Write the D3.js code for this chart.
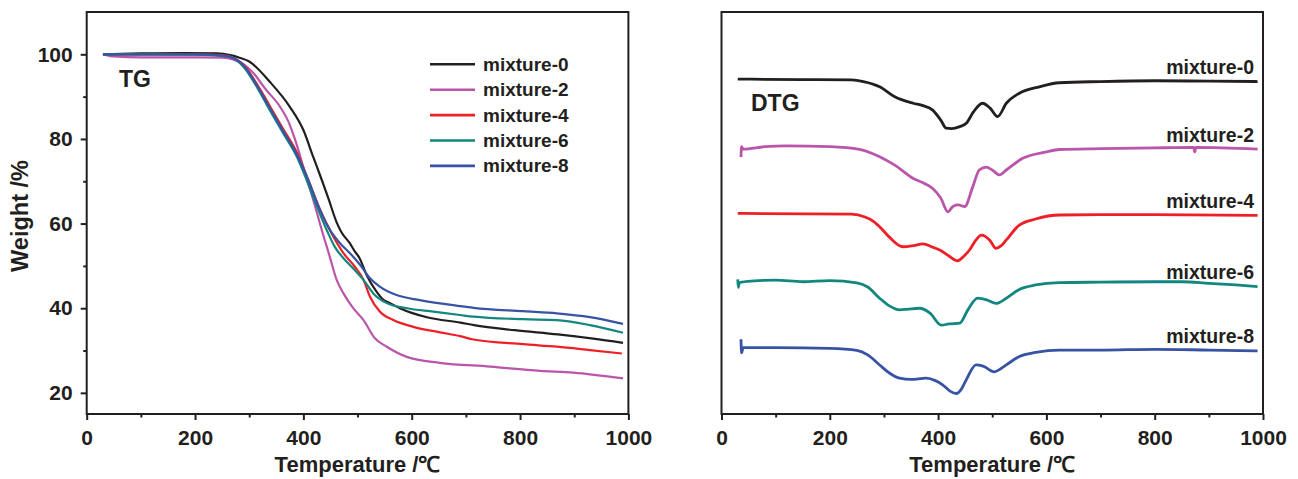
<!DOCTYPE html>
<html>
<head>
<meta charset="utf-8">
<script src="https://cdn.jsdelivr.net/npm/d3@7"></script>
<style>
    body { margin: 0; background: #fff; }
    svg  { display: block; }
    text { font-family: "Liberation Sans", Arial, sans-serif; font-weight: bold; fill: #231f20; }
</style>
</head>
<body>
<div id="chart"></div>
<script>
// ---- data ---------------------------------------------------------------
const names  = ["mixture-0", "mixture-2", "mixture-4", "mixture-6", "mixture-8"];
const colors = ["#231f20", "#bb55a9", "#ee1f26", "#13877f", "#3953a4"];

const tempMajor   = [0, 200, 400, 600, 800, 1000];
const tempMinor   = [100, 300, 500, 700, 900];
const weightMajor = [20, 40, 60, 80, 100];
const weightMinor = [30, 50, 70, 90];

// TG: [temperature °C, weight %]
const tgMix0 = [[30,100.0],[100,100.2],[180,100.3],[240,100.2],[265,99.8],[282,99.2],[300,98.3],[338,93.5],
    [375,87.6],[400,82.1],[418,75.8],[434,70.3],[446,66.0],[462,60.1],[470,58.0],[486,55.3],[494,53.6],
    [503,52.0],[517,47.8],[535,43.9],[545,42.3],[560,41.2],[580,39.9],[600,38.9],[630,37.8],[690,36.6],
    [715,36.0],[790,34.8],[870,33.8],[935,32.8],[990,31.8]];
const tgMix2 = [[30,100.0],[50,99.5],[100,99.3],[200,99.3],[250,99.2],[270,98.8],[290,97.6],[308,95.5],
    [330,91.8],[357,87.6],[372,84.2],[385,79.7],[403,72.0],[420,64.8],[435,58.0],[448,52.5],[462,46.5],
    [474,43.5],[492,40.0],[511,37.2],[532,32.9],[554,30.9],[591,28.5],[652,27.1],[745,26.2],[837,25.2],
    [898,24.8],[990,23.4]];
const tgMix4 = [[30,100.0],[100,100.0],[200,100.0],[250,99.8],[270,99.2],[290,97.5],[314,93.0],[338,87.8],
    [363,82.3],[388,76.8],[409,70.3],[431,63.2],[452,57.7],[474,53.0],[495,49.8],[511,46.7],[523,42.7],
    [541,39.2],[566,37.2],[603,35.6],[652,34.3],[689,33.4],[714,32.6],[806,31.5],[868,30.9],[929,30.1],
    [988,29.3]];
const tgMix6 = [[30,100.0],[100,100.0],[200,99.9],[250,99.6],[265,99.4],[289,97.1],[314,92.3],[338,86.8],
    [363,81.3],[388,75.8],[406,70.3],[425,64.0],[443,58.5],[458,54.5],[474,51.8],[492,49.4],[511,46.7],
    [529,43.5],[554,41.2],[591,40.0],[640,39.2],[689,38.4],[714,38.0],[806,37.4],[868,37.2],[929,36.0],
    [990,34.2]];
const tgMix8 = [[30,100.0],[100,100.0],[200,100.0],[250,99.7],[265,99.4],[290,97.3],[314,92.7],[338,87.3],
    [363,81.8],[388,76.3],[409,70.3],[428,64.0],[449,58.5],[468,55.3],[486,53.0],[505,50.2],[523,47.1],
    [541,45.1],[572,43.1],[615,41.9],[689,40.5],[714,40.1],[806,39.3],[868,38.8],[929,37.9],[990,36.3]];

// DTG: [temperature °C, signal a.u., curves stacked with offsets]
const dtgMix0 = [[30,83.3],[150,83.2],[240,83.1],[262,82.7],[292,81.4],[320,78.9],[354,77.3],[372,76.7],
    [390,75.6],[405,73.1],[415,71.1],[425,71.0],[440,71.5],[452,72.3],[465,75.1],[482,77.3],[496,76.1],
    [510,74.0],[526,77.3],[550,79.8],[587,81.4],[624,82.4],[700,82.7],[800,82.9],[900,82.8],[990,82.7]];
const dtgMix2 = [[36,63.9],[37,66.5],[40,65.9],[80,66.5],[120,66.7],[200,66.5],[255,65.8],[275,65.0],
    [292,64.0],[320,61.9],[354,58.6],[372,57.5],[390,56.1],[405,53.7],[418,50.3],[428,51.7],[437,52.0],
    [449,51.6],[464,56.5],[476,60.7],[489,61.4],[500,60.7],[513,59.5],[526,60.7],[556,63.6],[600,65.2],
    [624,65.8],[700,66.0],[800,66.2],[872,66.3],[874,65.2],[876,66.3],[990,65.9]];
const dtgMix4 = [[30,49.9],[240,49.7],[265,49.0],[280,48.0],[292,46.6],[310,44.0],[335,41.6],[355,41.9],
    [372,42.3],[390,41.5],[403,40.8],[420,39.3],[436,38.1],[448,39.3],[458,40.8],[470,43.3],[480,44.5],
    [495,43.3],[507,41.2],[516,41.8],[526,43.3],[550,47.0],[580,48.5],[624,49.5],[700,49.6],[800,49.6],
    [990,49.4]];
const dtgMix6 = [[30,33.5],[31,31.5],[33,32.7],[60,33.1],[100,33.3],[150,32.9],[200,33.2],[250,32.6],
    [270,31.6],[292,28.8],[310,26.9],[329,25.9],[345,26.1],[366,26.3],[385,25.1],[406,22.1],[420,22.4],
    [440,22.6],[455,25.9],[473,28.8],[490,28.4],[507,27.5],[526,28.8],[550,31.0],[580,32.1],[624,32.7],
    [700,32.8],[800,32.9],[850,32.9],[900,32.5],[950,32.1],[990,31.7]];
const dtgMix8 = [[36,18.6],[37,15.2],[40,16.5],[100,16.5],[200,16.3],[250,15.8],[270,14.7],[292,12.2],
    [310,10.2],[329,8.9],[350,8.6],[378,8.9],[395,8.3],[409,7.2],[422,5.7],[434,5.1],[443,6.2],[452,8.5],
    [470,12.2],[483,11.9],[504,10.5],[515,11.2],[526,12.2],[550,14.3],[580,15.3],[624,15.9],[700,15.9],
    [800,16.1],[900,15.9],[990,15.7]];

const tgSeries  = [tgMix0, tgMix2, tgMix4, tgMix6, tgMix8];
const dtgSeries = [dtgMix0, dtgMix2, dtgMix4, dtgMix6, dtgMix8];

// ---- layout -------------------------------------------------------------
const width = 1298, height = 479;
const ink = "#231f20";

const svg = d3.select("#chart").append("svg")
    .attr("width", width)
    .attr("height", height);

const styleAxis = g => {
    g.select(".domain").remove();
    g.selectAll(".tick line").attr("stroke", ink).attr("stroke-width", 2);
    g.selectAll(".tick text").style("font-size", "21px").attr("fill", ink);
};

function drawPanel({ x0, x1, top, bottom, yDomain, yMajor, yMinor }) {
    const x = d3.scaleLinear().domain([0, 1000]).range([x0, x1]);
    const y = d3.scaleLinear().domain(yDomain).range([bottom, top]);
    const g = svg.append("g");

    // bottom axis, major + minor ticks
    g.append("g")
        .attr("transform", `translate(0,${bottom})`)
        .call(d3.axisBottom(x).tickValues(tempMajor).tickSize(6).tickPadding(10).tickFormat(d3.format("d")))
        .call(styleAxis);
    g.append("g")
        .attr("transform", `translate(0,${bottom})`)
        .call(d3.axisBottom(x).tickValues(tempMinor).tickSize(3.5).tickFormat(""))
        .call(styleAxis);

    if (yMajor) {
        g.append("g")
            .attr("transform", `translate(${x0},0)`)
            .call(d3.axisLeft(y).tickValues(yMajor).tickSize(6).tickPadding(8))
            .call(styleAxis);
        g.append("g")
            .attr("transform", `translate(${x0},0)`)
            .call(d3.axisLeft(y).tickValues(yMinor).tickSize(3.5).tickFormat(""))
            .call(styleAxis);
    }

    g.append("text")
        .attr("x", (x0 + x1) / 2)
        .attr("y", 472)
        .attr("text-anchor", "middle")
        .style("font-size", "22px")
        .text("Temperature /\u2103");

    const lines = g.append("g");
    const frame = () => g.append("rect")
        .attr("x", x0).attr("y", top)
        .attr("width", x1 - x0).attr("height", bottom - top)
        .attr("fill", "none").attr("stroke", ink).attr("stroke-width", 2);

    return { x, y, g, lines, frame };
}

// ---- TG panel -----------------------------------------------------------
const tg = drawPanel({ x0: 86.7, x1: 628.4, top: 12, bottom: 414,
    yDomain: [15, 110], yMajor: weightMajor, yMinor: weightMinor });

const tgLine = d3.line().x(d => tg.x(d[0])).y(d => tg.y(d[1])).curve(d3.curveMonotoneX);
tg.lines.selectAll("path")
    .data(tgSeries)
    .join("path")
        .attr("d", tgLine)
        .attr("fill", "none")
        .attr("stroke", (d, i) => colors[i])
        .attr("stroke-width", 2.2);
tg.frame();

tg.g.append("text")
    .attr("transform", "translate(28,216) rotate(-90)")
    .attr("text-anchor", "middle")
    .style("font-size", "23.5px")
    .text("Weight /%");

tg.g.append("text")
    .attr("x", 119).attr("y", 87)
    .style("font-size", "23px")
    .text("TG");

const legend = tg.g.append("g").attr("transform", "translate(430,64.3)");
const rows = legend.selectAll("g")
    .data(names)
    .join("g")
        .attr("transform", (d, i) => `translate(0,${i * 25.4})`);
rows.append("line")
    .attr("x1", 0).attr("x2", 45)
    .attr("stroke", (d, i) => colors[i])
    .attr("stroke-width", 2.6);
rows.append("text")
    .attr("x", 53).attr("y", 6.5)
    .style("font-size", "19px")
    .text(d => d);

// ---- DTG panel ----------------------------------------------------------
const dtg = drawPanel({ x0: 721.5, x1: 1263, top: 12, bottom: 414, yDomain: [0, 100] });

const dtgLine = d3.line().x(d => dtg.x(d[0])).y(d => dtg.y(d[1])).curve(d3.curveMonotoneX);
dtg.lines.selectAll("path")
    .data(dtgSeries)
    .join("path")
        .attr("d", dtgLine)
        .attr("fill", "none")
        .attr("stroke", (d, i) => colors[i])
        .attr("stroke-width", 2.8)
        .attr("stroke-linejoin", "round");
dtg.frame();

dtg.g.append("text")
    .attr("x", 751).attr("y", 111)
    .style("font-size", "23px")
    .text("DTG");

// series labels sit just above the right end of each curve
dtg.g.selectAll(".series-label")
    .data(dtgSeries)
    .join("text")
        .attr("class", "series-label")
        .attr("x", 1254)
        .attr("y", d => dtg.y(d[d.length - 1][1]) - 7.5)
        .attr("text-anchor", "end")
        .style("font-size", "19.5px")
        .text((d, i) => names[i]);
</script>
</body>
</html>
